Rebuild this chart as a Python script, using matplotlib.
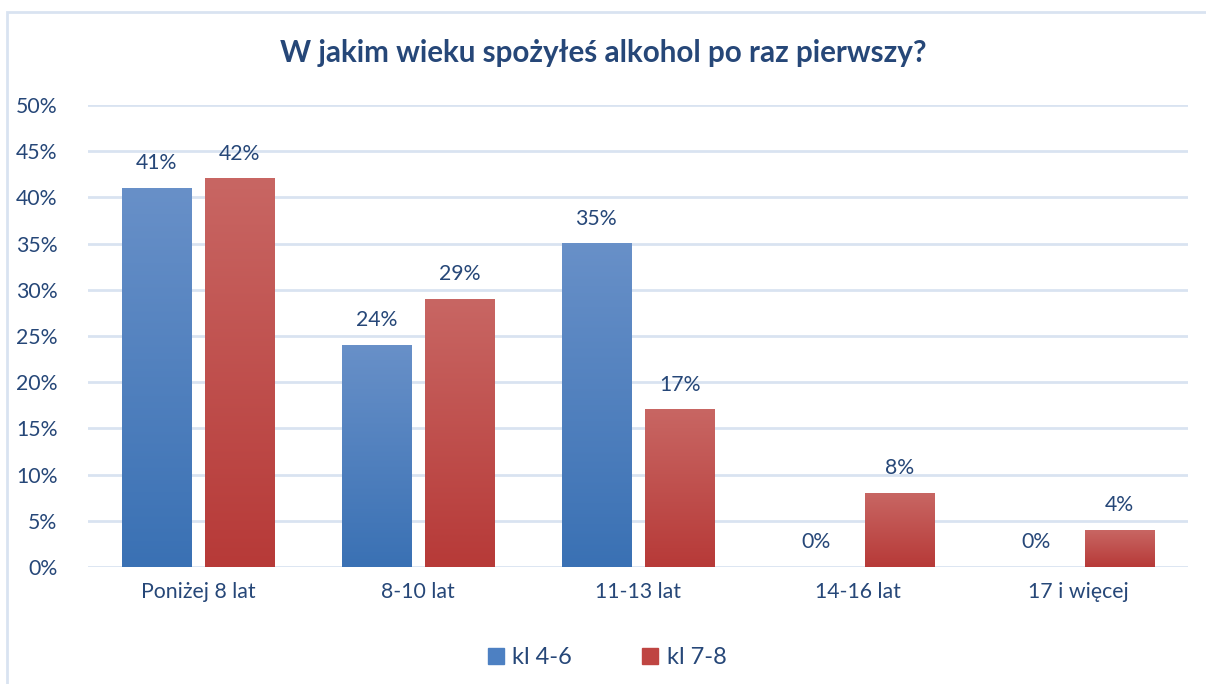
import numpy as np
import matplotlib.pyplot as plt
from matplotlib.patches import Rectangle
from matplotlib.lines import Line2D

categories = ['Poniżej 8 lat', '8-10 lat', '11-13 lat', '14-16 lat', '17 i więcej']
kl46 = [41, 24, 35, 0, 0]
kl78 = [42, 29, 17, 8, 4]
series_names = ['kl 4-6', 'kl 7-8']

plt.rcParams['font.family'] = ['Lato', 'DejaVu Sans']
text_color = '#264778'
grid_color = '#d9e3f1'
fs = 15.3

fig = plt.figure(figsize=(12.06, 6.84), dpi=100)
ax = fig.add_axes([88 / 1206, 1 - 567 / 684, 1100 / 1206, 462 / 684])

# outer frame (cropped on the right and bottom)
fig.patches.append(Rectangle((7 / 1206, -0.1), 1.2, 1 - 12 / 684 + 0.1,
                             transform=fig.transFigure, fill=False,
                             edgecolor=grid_color, linewidth=2))

x = np.arange(len(categories))
width = 0.314
offset = 0.19


def gradient_bars(xs, values, top, bottom):
    cmap = np.array([top, bottom]) / 255.0
    grad = np.linspace(0, 1, 100)[:, None]
    img = cmap[0] * (1 - grad[..., None]) + cmap[1] * grad[..., None]
    for xi, v in zip(xs, values):
        if v <= 0:
            continue
        ax.imshow(img, extent=(xi - width / 2, xi + width / 2, 0, v),
                  aspect='auto', zorder=3, interpolation='bilinear')


gradient_bars(x - offset, kl46, (104, 144, 200), (58, 113, 180))
gradient_bars(x + offset, kl78, (200, 102, 99), (183, 58, 56))

for xi, v in zip(x - offset, kl46):
    ax.text(xi, v + 1.6, f'{v}%', ha='center', va='bottom', fontsize=fs, color=text_color)
for xi, v in zip(x + offset, kl78):
    ax.text(xi, v + 1.6, f'{v}%', ha='center', va='bottom', fontsize=fs, color=text_color)

ax.set_xlim(-0.5, len(categories) - 0.5)
ax.set_ylim(0, 50)
ax.set_yticks(range(0, 51, 5))
ax.set_yticklabels([f'{t}%' for t in range(0, 51, 5)])
ax.set_xticks(x)
ax.set_xticklabels(categories)
ax.tick_params(axis='both', length=0, labelsize=fs, labelcolor=text_color)
ax.tick_params(axis='y', pad=22)
ax.tick_params(axis='x', pad=11)
ax.grid(axis='y', color=grid_color, linewidth=2, zorder=0)
ax.set_axisbelow(True)
for s in ax.spines.values():
    s.set_visible(False)

fig.text(0.5, 1 - 53 / 684, 'W jakim wieku spożyłeś alkohol po raz pierwszy?',
         ha='center', va='center', fontsize=21.3, fontweight='bold', color=text_color)

handles = [Line2D([], [], linestyle='none', marker='s', markersize=11, color=(0.3, 0.5, 0.76)),
           Line2D([], [], linestyle='none', marker='s', markersize=11, color=(0.75, 0.27, 0.26))]
fig.legend(handles, series_names, loc='center', bbox_to_anchor=(0.5, 1 - 658 / 684),
           ncol=2, frameon=False, fontsize=17, labelcolor=text_color,
           handletextpad=0.0, handlelength=1.4, columnspacing=2.6)

fig.savefig('out.png', dpi=100)
